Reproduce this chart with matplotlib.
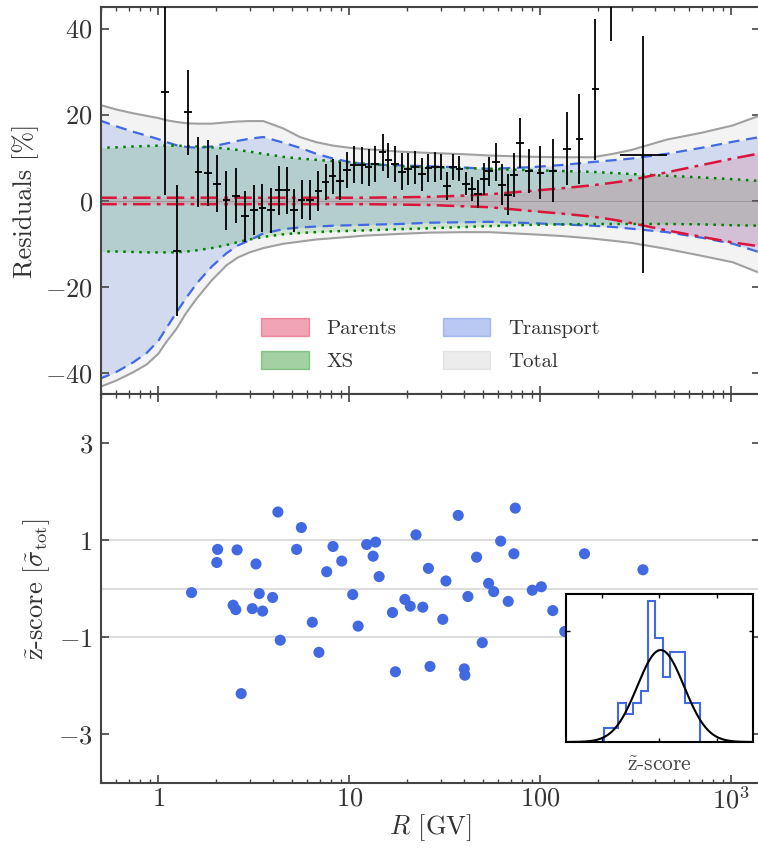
import numpy as np
import matplotlib
matplotlib.use("Agg")
import matplotlib.pyplot as plt
from matplotlib.patches import Patch
from matplotlib.ticker import FixedLocator, FixedFormatter, NullFormatter

plt.rcParams['font.family'] = 'serif'
plt.rcParams['font.serif'] = ['cmr10']
plt.rcParams['mathtext.fontset'] = 'cm'
plt.rcParams['axes.formatter.use_mathtext'] = True
plt.rcParams['axes.unicode_minus'] = False

# --- uncertainty bands ---
R_band = [0.49, 0.6, 0.74, 0.87, 1.0, 1.1, 1.24, 1.4, 1.6, 1.9, 2.27, 2.6, 3.0, 3.54, 4.5,
          5.5, 6.7, 8.2, 10, 12, 18.4, 26.4, 40, 54, 90, 130, 188, 240, 300, 459, 700,
          1018, 1410]
tot_hi = [22.3, 21.2, 20.3, 19.7, 19.2, 18.7, 18.3, 18.0, 17.9, 17.9, 18.2, 18.4, 18.5, 18.5, 16.8,
          14.8, 13.6, 12.8, 12.3, 12.0, 11.4, 11.1, 10.8, 10.5, 10.2, 10.1, 10.1, 10.9, 11.8, 14.2, 15.8,
          17.5, 19.8]
tot_lo = [-43.3, -41.8, -39.8, -38.0, -35.5, -32.8, -29.8, -26.0, -22.5, -18.5, -15.0, -13.2, -12.0, -11.0, -10.0,
          -9.5, -9.0, -8.7, -8.4, -8.1, -7.7, -7.4, -7.3, -7.3, -7.8, -8.2, -8.8, -9.3, -9.8, -11.2, -12.8,
          -14.3, -16.8]
tra_hi = [18.7, 17.3, 16.0, 15.1, 14.3, 13.6, 12.9, 12.5, 12.3, 12.6, 13.3, 13.9, 14.4, 14.8, 13.5,
          12.3, 10.9, 9.8, 9.0, 8.5, 8.2, 8.0, 7.7, 7.4, 7.8, 8.3, 9.0, 9.4, 9.8, 10.9, 12.3,
          13.7, 14.8]
tra_lo = [-41.4, -39.8, -37.5, -35.3, -32.5, -29.6, -26.0, -22.5, -19.0, -15.3, -12.2, -10.4, -9.2, -7.6, -6.6,
          -6.2, -6.0, -5.8, -5.7, -5.6, -5.4, -5.1, -5.0, -4.9, -5.2, -5.5, -5.8, -6.1, -6.5, -7.3, -8.6,
          -10.0, -12.0]
xs_hi = [12.3, 12.4, 12.6, 12.7, 12.8, 12.8, 12.8, 12.7, 12.6, 12.4, 12.1, 11.8, 11.4, 10.9, 10.2,
         9.8, 9.5, 9.2, 8.9, 8.6, 8.0, 7.8, 7.6, 7.4, 7.1, 6.9, 6.7, 6.45, 6.2, 5.8, 5.4,
         5.0, 4.6]
xs_lo = [-11.8, -11.8, -11.9, -12.0, -12.0, -12.0, -12.0, -11.8, -11.5, -11.0, -10.3, -9.6, -9.0, -8.4, -7.8,
         -7.5, -7.3, -7.1, -7.0, -6.9, -6.6, -6.4, -6.1, -5.9, -5.6, -5.5, -5.4, -5.4, -5.4, -5.4, -5.5,
         -5.7, -5.8]
par_hi = [0.7, 0.7, 0.7, 0.7, 0.7, 0.7, 0.7, 0.7, 0.7, 0.7, 0.7, 0.7, 0.7, 0.7, 0.7,
          0.7, 0.7, 0.7, 0.7, 0.7, 0.8, 0.9, 1.2, 1.5, 2.3, 2.9, 3.6, 4.2, 4.8, 6.6, 8.3,
          9.8, 11.0]
par_lo = [-0.8, -0.8, -0.8, -0.8, -0.8, -0.8, -0.8, -0.8, -0.8, -0.8, -0.8, -0.8, -0.8, -0.8, -0.8,
          -0.8, -0.8, -0.8, -0.8, -0.8, -0.9, -1.0, -1.3, -1.5, -2.4, -3.0, -3.7, -4.4, -5.2, -6.9, -8.4,
          -9.7, -10.6]

# --- residual data points ---
R_dat = [1.08, 1.25, 1.43, 1.62, 1.82, 2.03, 2.27, 2.55, 2.84, 3.16, 3.50, 3.87, 4.27, 4.69,
         5.14, 5.62, 6.21, 6.87, 7.50, 8.16, 8.91, 9.74, 10.6, 11.6, 12.6, 13.6, 14.9, 16.0,
         17.3, 18.8, 20.3, 22.0, 23.9, 25.9, 28.0, 30.0, 32.5, 34.9, 37.6, 40.6, 43.8, 47.2,
         50.8, 53.7, 58.4, 63.1, 67.8, 72.6, 78.1, 87.4, 100, 116, 138, 160, 194, 234]
res_dat = [25.3, -11.6, 20.5, 6.7, 6.5, 4.0, 0.1, 1.2, -3.6, -2.1, -1.7, -2.2, 2.4, 2.4,
           -2.2, 0.2, 0.1, 2.3, 4.3, 5.7, 4.6, 7.1, 8.4, 8.2, 7.8, 8.6, 11.3, 9.4,
           8.5, 6.7, 7.4, 7.8, 6.1, 7.6, 7.8, 7.8, 3.4, 7.8, 7.4, 4.0, 2.8, 1.6,
           5.0, 6.8, 9.0, 3.7, 1.4, 6.0, 13.4, 7.0, 6.5, 7.0, 12.1, 14.3, 25.9, 60.0]
err_dat = [24.0, 15.2, 9.9, 8.1, 7.7, 6.6, 6.8, 6.4, 5.9, 5.8, 5.6, 5.2, 5.7, 5.5,
           5.0, 4.5, 4.6, 4.6, 4.2, 4.1, 4.4, 4.2, 4.3, 4.3, 4.3, 4.2, 4.3, 4.1,
           4.1, 4.3, 3.8, 3.8, 3.8, 3.3, 3.5, 3.1, 3.2, 3.1, 2.9, 2.7, 2.8, 3.2,
           3.7, 3.3, 4.5, 4.8, 4.7, 5.1, 5.8, 5.1, 6.2, 7.3, 8.5, 10.5, 16.4, 23.0]
# last, wide bin
R_last, res_last, err_last = 343, 10.7, 27.5
R_last_lo, R_last_hi = 260, 458

# --- z-scores ---
R_z = [1.49, 2.04, 2.02, 2.58, 2.46, 2.54, 2.71, 3.24, 3.37, 3.10, 3.51, 3.96, 4.22, 4.34,
       5.29, 5.60, 6.39, 6.92, 7.60, 8.20, 9.11, 10.4, 11.1, 12.3, 13.7, 13.3, 14.3, 16.8,
       17.4, 19.5, 20.8, 22.3, 24.2, 25.9, 26.4, 30.8, 32.0, 37.1, 39.9, 40.2, 41.7, 46.3,
       49.6, 53.5, 56.9, 61.9, 67.8, 72.6, 73.8, 90.6, 101, 116, 134, 170, 344]
z_val = [-0.08, 0.81, 0.54, 0.80, -0.34, -0.43, -2.16, 0.51, -0.10, -0.41, -0.46, -0.18, 1.58, -1.06,
         0.81, 1.26, -0.69, -1.31, 0.35, 0.87, 0.57, -0.12, -0.77, 0.91, 0.96, 0.67, 0.25, -0.49,
         -1.71, -0.22, -0.36, 1.11, -0.38, 0.42, -1.60, -0.63, 0.16, 1.51, -1.65, -1.78, -0.16, 0.65,
         -1.11, 0.11, -0.06, 0.98, -0.26, 0.72, 1.66, -0.03, 0.04, -0.45, -0.88, 0.72, 0.39]

# --- inset histogram ---
hist_edges = [-2.39, -2.08, -1.76, -1.44, -1.13, -0.81, -0.50, -0.18, 0.14, 0.45, 0.77, 1.09, 1.40, 1.72]
hist_dens = [0.06, 0.06, 0.17, 0.12, 0.17, 0.22, 0.61, 0.45, 0.28, 0.39, 0.39, 0.17, 0.17]
gauss_mu, gauss_sigma = 0.05, 1.0

txt = '#333333'
fig = plt.figure(figsize=(7.58, 8.52), dpi=100)
ax1 = fig.add_axes([0.1332, 0.5370, 0.8694, 0.4548])
ax2 = fig.add_axes([0.1332, 0.0810, 0.8694, 0.4560], sharex=ax1)

# top panel: bands
ax1.fill_between(R_band, tot_lo, tot_hi, color='gray', alpha=0.09, lw=0)
ax1.plot(R_band, tot_hi, color='#a0a0a0', lw=1.5)
ax1.plot(R_band, tot_lo, color='#a0a0a0', lw=1.5)
ax1.fill_between(R_band, tra_lo, tra_hi, color='royalblue', alpha=0.18, lw=0)
ax1.plot(R_band, tra_hi, color='royalblue', lw=1.6, ls=(0, (5, 3)))
ax1.plot(R_band, tra_lo, color='royalblue', lw=1.6, ls=(0, (5, 3)))
ax1.fill_between(R_band, xs_lo, xs_hi, color='green', alpha=0.14, lw=0)
ax1.plot(R_band, xs_hi, color='green', lw=1.8, ls=(0, (1, 2.2)))
ax1.plot(R_band, xs_lo, color='green', lw=1.8, ls=(0, (1, 2.2)))
ax1.fill_between(R_band, par_lo, par_hi, color='crimson', alpha=0.13, lw=0)
ax1.plot(R_band, par_hi, color='crimson', lw=1.8, ls=(0, (7, 2.5, 1.5, 2.5)))
ax1.plot(R_band, par_lo, color='crimson', lw=1.8, ls=(0, (7, 2.5, 1.5, 2.5)))
ax1.axhline(0, color='gray', lw=0.6, alpha=0.6)

bin_dex = 0.02
R_arr = np.array(R_dat)
xerr = [R_arr - R_arr / 10**bin_dex, R_arr * 10**bin_dex - R_arr]
ax1.errorbar(R_dat, res_dat, yerr=err_dat, xerr=xerr, fmt='none', ecolor='black',
             elinewidth=1.3, capsize=0, zorder=5)
ax1.errorbar([R_last], [res_last], yerr=[err_last],
             xerr=[[R_last - R_last_lo], [R_last_hi - R_last]], fmt='none',
             ecolor='black', elinewidth=1.3, capsize=0, zorder=5)

ax1.set_xscale('log')
ax1.set_xlim(0.5, 1410)
ax1.set_ylim(-45, 45)
ax1.yaxis.set_major_locator(FixedLocator([-40, -20, 0, 20, 40]))
ax1.yaxis.set_major_formatter(FixedFormatter([r'$-40$', r'$-20$', r'$0$', r'$20$', r'$40$']))
ax1.set_ylabel('Residuals [%]', fontsize=19, color=txt)

handles = [Patch(color='crimson', alpha=0.38, label='Parents'),
           Patch(color='green', alpha=0.36, label='XS'),
           Patch(color='royalblue', alpha=0.36, label='Transport'),
           Patch(color='gray', alpha=0.15, label='Total')]
leg = ax1.legend(handles=handles, ncol=2, loc='lower center', bbox_to_anchor=(0.5, 0.012),
                 frameon=False, fontsize=15, handlelength=2.3, handleheight=1.0,
                 handletextpad=0.85, columnspacing=2.2, labelspacing=0.6)
for t in leg.get_texts():
    t.set_color(txt)

# bottom panel: z-scores
for g in [-1, 0, 1]:
    ax2.axhline(g, color='#dddddd', lw=1.5, zorder=0)
ax2.scatter(R_z, z_val, s=64, color='royalblue', edgecolors='none', zorder=3)
ax2.set_ylim(-4, 4)
ax2.yaxis.set_major_locator(FixedLocator([-3, -1, 1, 3]))
ax2.yaxis.set_major_formatter(FixedFormatter([r'$-3$', r'$-1$', r'$1$', r'$3$']))
ax2.xaxis.set_major_locator(FixedLocator([1, 10, 100, 1000]))
ax2.xaxis.set_major_formatter(FixedFormatter([r'$1$', r'$10$', r'$100$', r'$10^3$']))
ax2.xaxis.set_minor_formatter(NullFormatter())
ax2.set_ylabel(r'$\tilde{\rm z}$-score $[\tilde{\sigma}_{\rm tot}]$', fontsize=19, color=txt)
ax2.set_xlabel(r'$R$ [GV]', fontsize=19, color=txt, labelpad=-1)

for ax in (ax1, ax2):
    ax.tick_params(which='both', direction='in', top=True, right=True, labelsize=19,
                   colors='#444444', labelcolor=txt)
    ax.tick_params(which='major', length=6, width=1.2, pad=6)
    ax.tick_params(which='minor', length=3, width=1.0)
    for s in ax.spines.values():
        s.set_color('#444444')
        s.set_linewidth(1.5)
ax1.tick_params(labelbottom=False)
ax2.tick_params(axis='x', which='major', pad=3)

# inset histogram
axi = fig.add_axes([0.7467, 0.1291, 0.2467, 0.1737])
axi.stairs(hist_dens, hist_edges, color='royalblue', lw=1.5)
zz = np.linspace(-4, 4, 300)
axi.plot(zz, np.exp(-0.5 * ((zz - gauss_mu) / gauss_sigma) ** 2) / (gauss_sigma * np.sqrt(2 * np.pi)),
         color='black', lw=1.5)
axi.set_xlim(-4, 4)
axi.set_ylim(0, 0.642)
axi.set_xticks([-2.45, 0, 2.45])
axi.set_yticks([0.48])
axi.tick_params(direction='in', top=True, right=True, labelbottom=False, labelleft=False,
                length=3, width=1.0)
for s in axi.spines.values():
    s.set_linewidth(1.5)
    s.set_color('black')
axi.set_xlabel(r'$\tilde{\rm z}$-score', fontsize=15.5, color='#444444', labelpad=10)

fig.savefig('out.png', dpi=100)
